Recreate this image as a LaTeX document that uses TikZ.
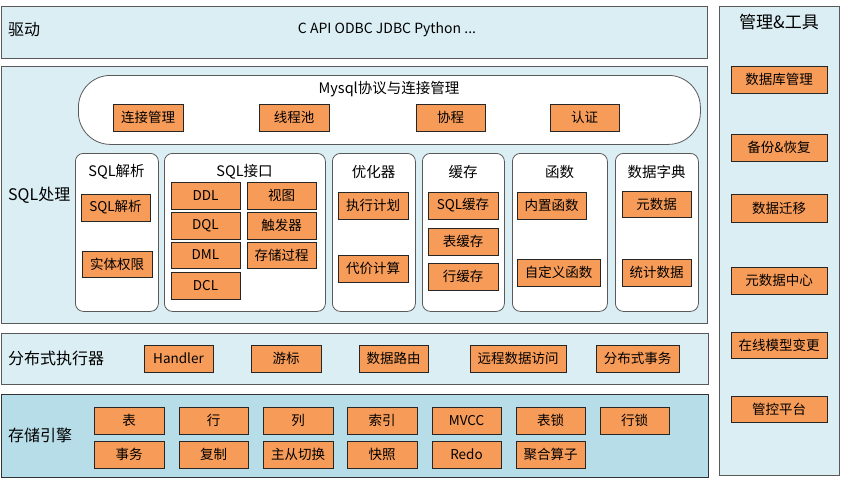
\documentclass[tikz,border=0pt]{standalone}
\usepackage{fontspec}
\setmainfont{Noto Sans CJK SC}
\definecolor{panelblue}{HTML}{DAEEF3}
\definecolor{storeblue}{HTML}{B7DDE8}
\definecolor{boxorange}{HTML}{F79B58}
\definecolor{edgegray}{HTML}{595959}
\tikzset{
  panel/.style={draw=edgegray, line width=0.9pt, fill=panelblue},
  subpanel/.style={draw=edgegray, line width=0.8pt, fill=white, rounded corners=8pt},
  ob/.style={draw=black!85, line width=0.8pt, fill=boxorange, inner sep=0pt, outer sep=0pt, anchor=north west, font=\fontsize{13.5}{15}\selectfont},
  plabel/.style={anchor=west, font=\fontsize{16}{18}\selectfont, inner sep=0pt},
  stitle/.style={font=\fontsize{14.5}{16}\selectfont, inner sep=0pt}
}
\newcommand\obx[6]{\node[ob, minimum width={#4pt-#2pt}, minimum height={#5pt-#3pt}] (#1) at (#2,#3) {#6};}
\begin{document}
\begin{tikzpicture}[x=1pt,y=-1pt]
\useasboundingbox (0,0) rectangle (841,479);
% drive panel
\node[panel, minimum width=706pt, minimum height=52pt, anchor=north west, inner sep=0pt] (drive) at (1,6) {};
\node[plabel] (drivelbl) at (8,30) {驱动};
\node[font=\fontsize{14}{16}\selectfont, inner sep=0pt] (drivetxt) at (387,30) {C API ODBC JDBC Python ...};
% SQL processing panel
\node[panel, minimum width=706pt, minimum height=257pt, anchor=north west, inner sep=0pt] (sqlp) at (1,66) {};
\node[plabel] (sqlplbl) at (8,195) {SQL处理};
% pill
\node[draw=edgegray, line width=0.8pt, fill=white, rounded corners=32pt, minimum width=622pt, minimum height=69pt, anchor=north west, inner sep=0pt] (pill) at (78,75) {};
\node[stitle] (pilltitle) at (389,89) {Mysql协议与连接管理};
\obx{c1}{113}{104}{183}{131}{连接管理}
\obx{c2}{259}{104}{329}{131}{线程池}
\obx{c3}{416}{104}{485}{131}{协程}
\obx{c4}{550}{104}{619}{131}{认证}
% sub panels
\node[subpanel, minimum width=83pt, minimum height=158pt, anchor=north west, inner sep=0pt] (sp1) at (75,153) {};
\node[subpanel, minimum width=161pt, minimum height=158pt, anchor=north west, inner sep=0pt] (sp2) at (164,153) {};
\node[subpanel, minimum width=83pt, minimum height=158pt, anchor=north west, inner sep=0pt] (sp3) at (332,153) {};
\node[subpanel, minimum width=82pt, minimum height=158pt, anchor=north west, inner sep=0pt] (sp4) at (422,153) {};
\node[subpanel, minimum width=95pt, minimum height=158pt, anchor=north west, inner sep=0pt] (sp5) at (512,153) {};
\node[subpanel, minimum width=83pt, minimum height=158pt, anchor=north west, inner sep=0pt] (sp6) at (615,153) {};
\node[stitle] (t1) at (116.5,172) {SQL解析};
\node[stitle] (t2) at (244.5,172) {SQL接口};
\node[stitle] (t3) at (373.5,172) {优化器};
\node[stitle] (t4) at (463,172) {缓存};
\node[stitle] (t5) at (559.5,172) {函数};
\node[stitle] (t6) at (656.5,172) {数据字典};
\obx{a1}{81}{194}{150}{221}{SQL解析}
\obx{a2}{82}{251}{152}{277}{实体权限}
\obx{b1}{171}{182}{240}{209}{DDL}
\obx{b2}{171}{212}{240}{239}{DQL}
\obx{b3}{171}{242}{240}{268}{DML}
\obx{b4}{171}{272}{240}{299}{DCL}
\obx{b5}{247}{182}{316}{209}{视图}
\obx{b6}{247}{212}{316}{239}{触发器}
\obx{b7}{247}{242}{316}{268}{存储过程}
\obx{o1}{338}{192}{408}{219}{执行计划}
\obx{o2}{338}{255}{408}{282}{代价计算}
\obx{h1}{428}{192}{498}{219}{SQL缓存}
\obx{h2}{428}{228}{498}{255}{表缓存}
\obx{h3}{428}{263}{498}{290}{行缓存}
\obx{f1}{517}{192}{586}{219}{内置函数}
\obx{f2}{517}{259}{600}{286}{自定义函数}
\obx{d1}{622}{191}{691}{217}{元数据}
\obx{d2}{622}{259}{691}{286}{统计数据}
% distributed executor
\node[panel, minimum width=707pt, minimum height=51pt, anchor=north west, inner sep=0pt] (dist) at (1,333) {};
\node[plabel] (distlbl) at (8,358) {分布式执行器};
\obx{e1}{144}{345}{213}{372}{Handler}
\obx{e2}{251}{345}{321}{372}{游标}
\obx{e3}{359}{345}{428}{372}{数据路由}
\obx{e4}{470}{345}{566}{372}{远程数据访问}
\obx{e5}{596}{345}{679}{372}{分布式事务}
% storage engine
\node[panel, fill=storeblue, draw=black!80, minimum width=707pt, minimum height=83pt, anchor=north west, inner sep=0pt] (store) at (1,394) {};
\node[plabel] (storelbl) at (8,435) {存储引擎};
\obx{s1}{94}{407}{164}{434}{表}
\obx{s2}{179}{407}{248}{434}{行}
\obx{s3}{263}{407}{333}{434}{列}
\obx{s4}{347}{407}{417}{434}{索引}
\obx{s5}{432}{407}{501}{434}{MVCC}
\obx{s6}{516}{407}{585}{434}{表锁}
\obx{s7}{600}{407}{669}{434}{行锁}
\obx{r1}{94}{441}{164}{468}{事务}
\obx{r2}{179}{441}{248}{468}{复制}
\obx{r3}{263}{441}{333}{468}{主从切换}
\obx{r4}{347}{441}{417}{468}{快照}
\obx{r5}{432}{441}{501}{468}{Redo}
\obx{r6}{516}{441}{585}{468}{聚合算子}
% management & tools
\node[panel, minimum width=120pt, minimum height=469pt, anchor=north west, inner sep=0pt] (mgmt) at (719,6) {};
\node[font=\fontsize{17}{19}\selectfont, inner sep=0pt] (mgmtlbl) at (779,22) {管理\&工具};
\obx{m1}{731}{66}{827}{93}{数据库管理}
\obx{m2}{731}{134}{827}{161}{备份\&恢复}
\obx{m3}{731}{194}{827}{222}{数据迁移}
\obx{m4}{731}{267}{827}{294}{元数据中心}
\obx{m5}{731}{332}{827}{358}{在线模型变更}
\obx{m6}{731}{396}{827}{422}{管控平台}
\end{tikzpicture}
\end{document}
